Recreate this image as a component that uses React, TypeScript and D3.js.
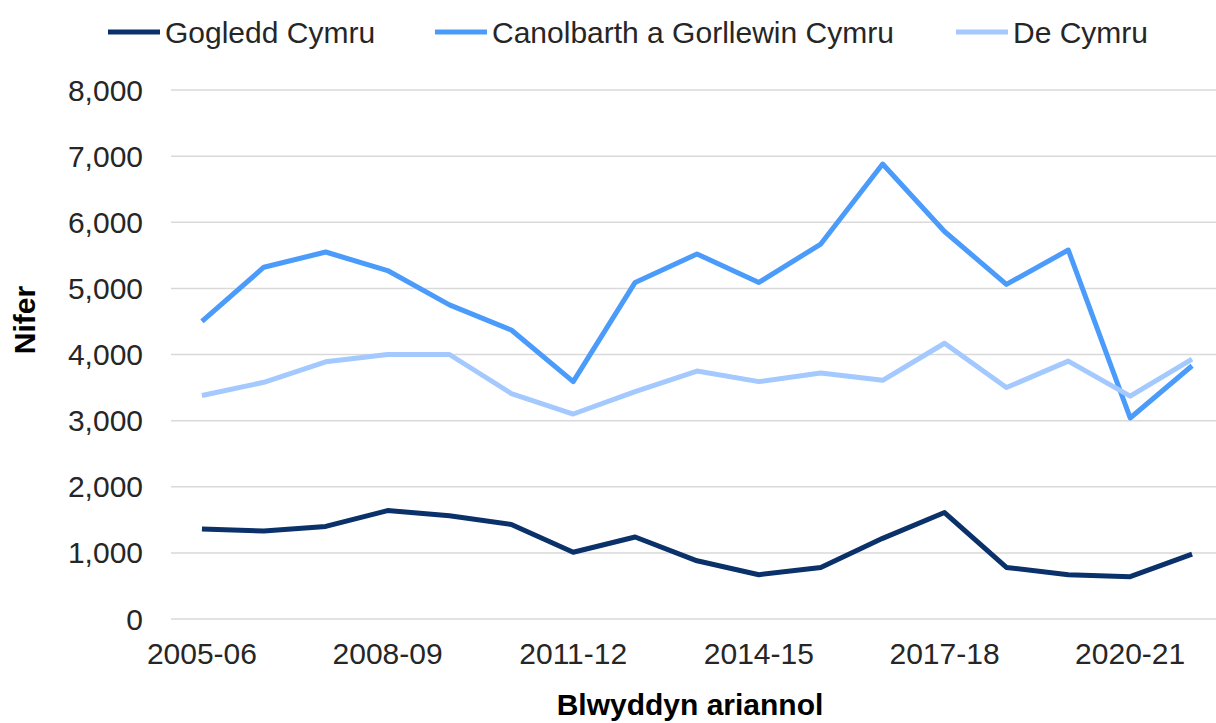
import React from "react";
import * as d3 from "d3";

const years = [
  "2005-06", "2006-07", "2007-08", "2008-09", "2009-10", "2010-11", "2011-12", "2012-13", "2013-14",
  "2014-15", "2015-16", "2016-17", "2017-18", "2018-19", "2019-20", "2020-21", "2021-22",
];
const shownYears = ["2005-06", "2008-09", "2011-12", "2014-15", "2017-18", "2020-21"];
const gogledd = [1360, 1330, 1400, 1640, 1560, 1430, 1010, 1240, 880, 670, 780, 1220, 1610, 780, 670, 640, 980];
const canolbarth = [4500, 5320, 5550, 5270, 4750, 4370, 3590, 5090, 5520, 5090, 5670, 6880, 5860, 5060, 5580, 3040, 3830];
const deCymru = [3380, 3580, 3890, 4000, 4000, 3410, 3100, 3440, 3750, 3590, 3720, 3610, 4170, 3500, 3900, 3370, 3930];
const yTicks = [0, 1000, 2000, 3000, 4000, 5000, 6000, 7000, 8000];

const seriesNames = ["Gogledd Cymru", "Canolbarth a Gorllewin Cymru", "De Cymru"];
const seriesData = [gogledd, canolbarth, deCymru];
const colors = ["#0a3169", "#4b9bfb", "#a3c9ff"];

const W = 1216;
const H = 723;
const FONT = "'Liberation Sans', Arial, sans-serif";

export default function App() {
  const x = d3.scaleBand<string>().domain(years).range([171, 1223]);
  const y = d3.scaleLinear().domain([0, 8000]).range([619, 90]);
  const cx = (d: string) => (x(d) ?? 0) + x.bandwidth() / 2;
  const line = d3
    .line<number>()
    .x((_, i) => cx(years[i]))
    .y((v) => y(v));
  const fmt = d3.format(",");

  const legendSwatchX = [108, 435, 956];

  return (
    <svg
      width={W}
      height={H}
      style={{ position: "absolute", left: 0, top: 0, background: "#fff" }}
      fontFamily={FONT}
    >
      <rect x={0} y={0} width={W} height={H} fill="#fff" />
      {yTicks.map((t) => (
        <g key={t}>
          <line x1={171} x2={1223} y1={y(t)} y2={y(t)} stroke="#d9d9d9" strokeWidth={1.5} />
          <text x={143} y={y(t)} textAnchor="end" dominantBaseline="central" fontSize={30} fill="#262626">
            {fmt(t)}
          </text>
        </g>
      ))}
      {shownYears.map((yr) => (
        <text key={yr} x={cx(yr)} y={664} textAnchor="middle" fontSize={30} fill="#262626">
          {yr}
        </text>
      ))}
      {seriesData.map((s, i) => (
        <path
          key={seriesNames[i]}
          d={line(s) ?? ""}
          fill="none"
          stroke={colors[i]}
          strokeWidth={5}
          strokeLinejoin="round"
        />
      ))}
      {seriesNames.map((n, i) => (
        <g key={n}>
          <line
            x1={legendSwatchX[i]}
            x2={legendSwatchX[i] + 52}
            y1={32}
            y2={32}
            stroke={colors[i]}
            strokeWidth={5}
          />
          <text
            x={legendSwatchX[i] + 57}
            y={32}
            dominantBaseline="central"
            fontSize={30}
            fill="#262626"
          >
            {n}
          </text>
        </g>
      ))}
      <text x={690} y={715} textAnchor="middle" fontSize={30} fontWeight="bold" fill="#000">
        Blwyddyn ariannol
      </text>
      <text
        transform={`translate(35,320) rotate(-90)`}
        textAnchor="middle"
        fontSize={30}
        fontWeight="bold"
        fill="#000"
      >
        Nifer
      </text>
    </svg>
  );
}
